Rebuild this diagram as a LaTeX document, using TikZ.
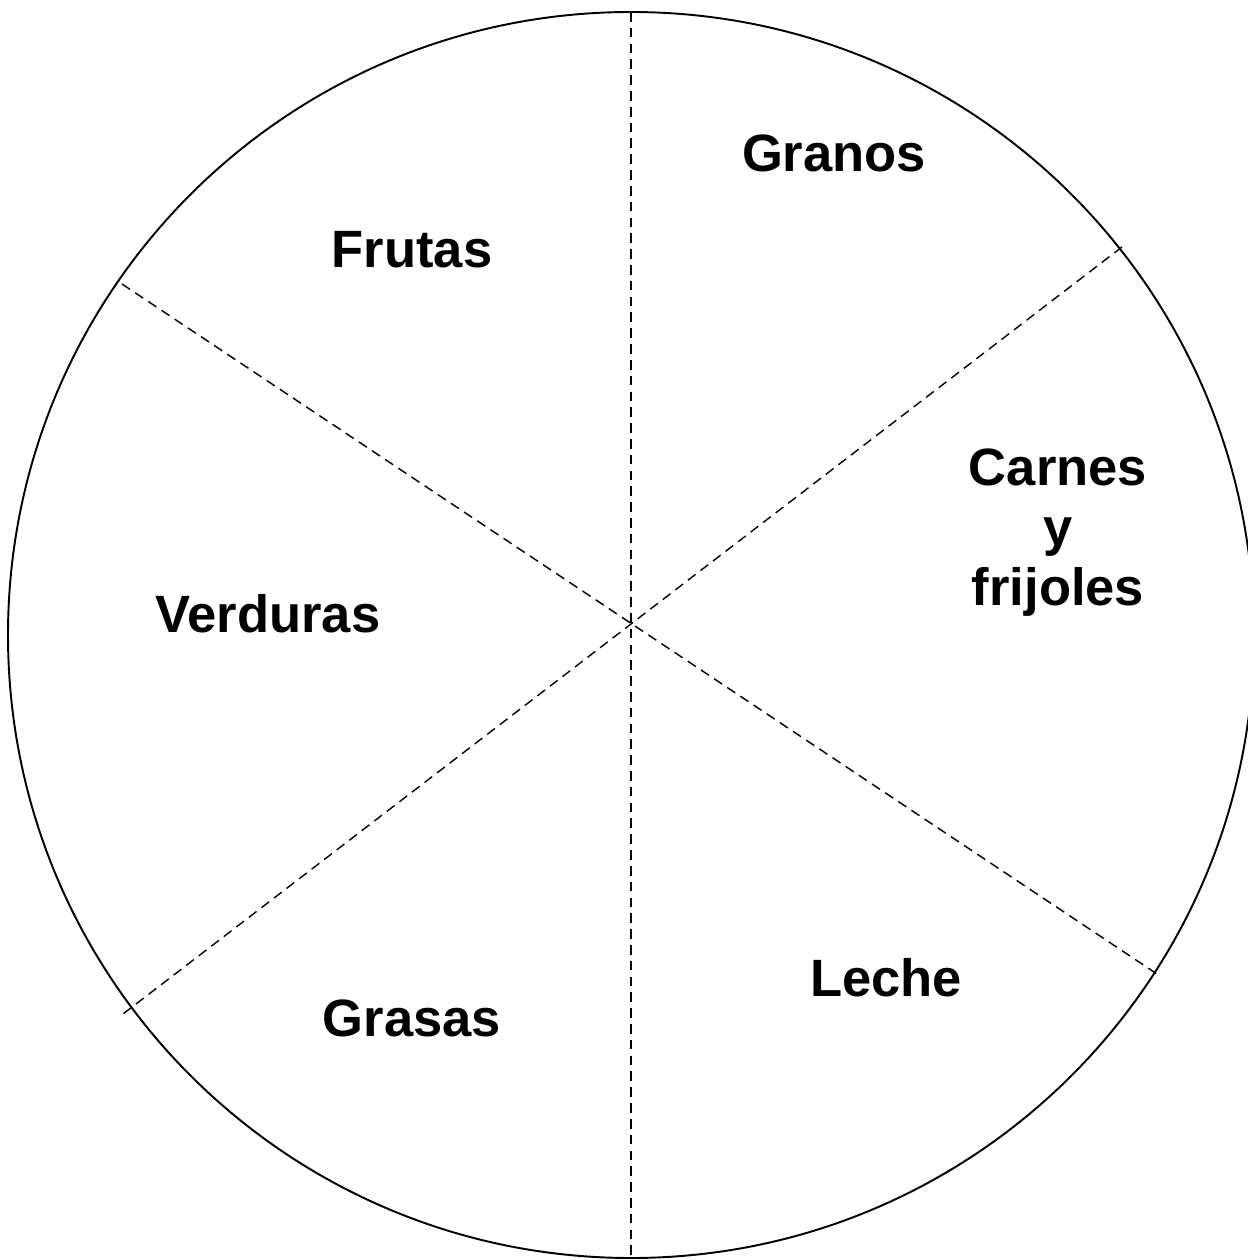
\documentclass[tikz,border=0pt]{standalone}
\usepackage{fontspec}
\setmainfont{Liberation Sans}
\usepackage{tikz}
\usetikzlibrary{positioning}

\begin{document}
\begin{tikzpicture}[
	x=0.02cm, y=-0.02cm,
	grupo/.style={font=\fontsize{29.9}{34.1}\selectfont\bfseries, anchor=base, align=center, inner sep=0pt},
	borde/.style={line width=1.1pt, black},
	corte/.style={line width=0.8pt, black, dash pattern=on 5.5pt off 3.5pt},
]
\useasboundingbox (0,0) rectangle (1247,1260);

% circulo y puntos de corte
\coordinate (centro) at (631,635);
\coordinate (arriba) at (631,12);
\coordinate (abajo) at (631,1258);
\coordinate (supizq) at (122,284);
\coordinate (supder) at (1122,247);
\coordinate (infder) at (1160,976);
\coordinate (infizq) at (123,1014);

\draw[borde] (centro) circle[radius=623];

\draw[corte] (arriba) -- (abajo);
\draw[corte] (supizq) -- (infder);
\draw[corte] (supder) -- (infizq);

% grupos de alimentos
\node[grupo] (granos) at (834,172) {Granos};
\node[grupo] (frutas) at (412,268) {Frutas};
\node[grupo] (carnes) at (1058,605) {Carnes\\y\\frijoles};
\node[grupo] (verduras) at (268,632) {Verduras};
\node[grupo] (leche) at (886,996) {Leche};
\node[grupo] (grasas) at (412,1036) {Grasas};
\end{tikzpicture}
\end{document}
